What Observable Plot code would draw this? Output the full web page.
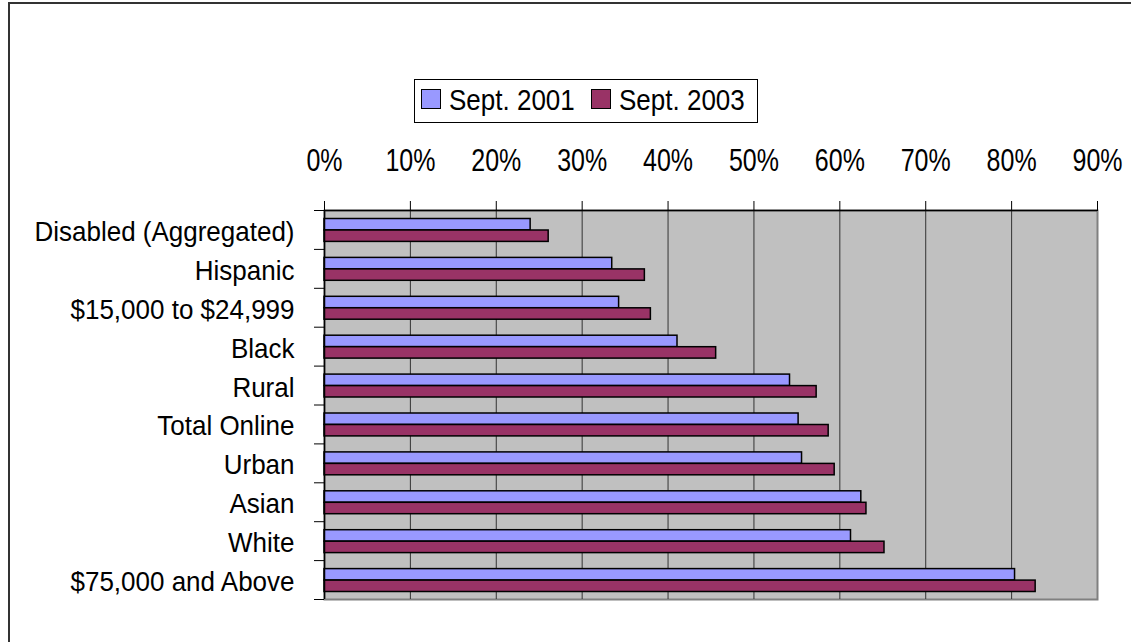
<!DOCTYPE html>
<html>
<head>
<meta charset="utf-8">
<script src="https://cdn.jsdelivr.net/npm/d3@7"></script>
<script src="https://cdn.jsdelivr.net/npm/@observablehq/plot@0.6"></script>
<style>
  html, body { margin: 0; padding: 0; background: #fff; overflow: hidden; }
  #wrap { position: relative; width: 1131px; height: 642px; overflow: hidden; font-family: "Liberation Sans", Arial, sans-serif; }
  #border { position: absolute; left: 8px; top: 2px; width: 1200px; height: 700px; border: 2px solid #333; box-sizing: border-box; }
  #chart { position: absolute; left: 0; top: 0; }
  #legend { position: absolute; left: 414px; top: 79px; width: 344px; height: 44px; border: 1px solid #000; box-sizing: border-box; background: #fff; }
  .sw { position: absolute; width: 18px; height: 18px; border: 1.5px solid #000; top: 9px; }
  .lt { position: absolute; top: 5px; font-size: 26px; color: #000; line-height: 30px; white-space: nowrap; transform: scaleY(1.12); transform-origin: 0 50%; }
</style>
</head>
<body>
<div id="wrap">
  <div id="border"></div>
  <div id="chart"></div>
  <div id="legend"></div>
</div>
<script>
const categories = ["Disabled (Aggregated)", "Hispanic", "$15,000 to $24,999", "Black", "Rural", "Total Online", "Urban", "Asian", "White", "$75,000 and Above"];
const sept2001 = [24.0, 33.5, 34.3, 41.1, 54.2, 55.2, 55.6, 62.5, 61.3, 80.4];
const sept2003 = [26.1, 37.3, 38.0, 45.6, 57.3, 58.7, 59.4, 63.1, 65.2, 82.8];
const xTicks = [0, 10, 20, 30, 40, 50, 60, 70, 80, 90];
const seriesNames = ["Sept. 2001", "Sept. 2003"];
const seriesColors = ["#9999FF", "#993366"];

const W = 1131, H = 642, mT = 210, mB = 43, mL = 324, mR = 34;
const bw = (H - mT - mB) / categories.length;

const d2001 = categories.map((c, i) => ({category: c, value: sept2001[i]}));
const d2003 = categories.map((c, i) => ({category: c, value: sept2003[i]}));
const fmt = d => d + "%";

const chart = Plot.plot({
  width: W, height: H,
  marginTop: mT, marginBottom: mB, marginLeft: mL, marginRight: mR,
  style: {fontFamily: "'Liberation Sans', Arial, sans-serif", background: "transparent", color: "#000", overflow: "visible"},
  x: {domain: [0, 90], axis: null, label: null},
  y: {domain: categories, padding: 0, round: false, axis: null, label: null},
  marks: [
    Plot.frame({fill: "#C0C0C0", stroke: "#808080", strokeWidth: 2}),
    Plot.ruleX(xTicks.slice(1, -1), {stroke: "#333", strokeWidth: 1}),
    Plot.barX(d2001, {x: "value", y: "category", fill: seriesColors[0], stroke: "#000", strokeWidth: 1.5, insetTop: 8.5, insetBottom: 19}),
    Plot.barX(d2003, {x: "value", y: "category", fill: seriesColors[1], stroke: "#000", strokeWidth: 1.5, insetTop: 20, insetBottom: 7.5}),
    Plot.ruleX([0], {stroke: "#000", strokeWidth: 1.5}),
    Plot.ruleY([categories[0]], {x1: 0, x2: 90, dy: -bw / 2, stroke: "#000", strokeWidth: 1.5}),
    Plot.axisX({anchor: "top", label: null, ticks: xTicks, tickFormat: fmt, tickSize: 10, tickPadding: 30, fontSize: 25, stroke: "#000"}),
    Plot.axisY({anchor: "left", label: null, tickSize: 10, tickFormat: () => "", dy: -bw / 2, stroke: "#000"}),
    Plot.axisY({anchor: "left", label: null, ticks: [categories[categories.length - 1]], tickSize: 10, tickFormat: () => "", dy: bw / 2, stroke: "#000"}),
    Plot.axisY({anchor: "left", label: null, tickSize: 0, tickPadding: 30, fontSize: 26, dy: 2})
  ]
});
document.getElementById("chart").appendChild(chart);

// taller, narrower look of the original's tick labels
d3.select(chart).selectAll('g[aria-label="x-axis tick label"] text').each(function() {
  const t = this.getAttribute("transform") || "";
  this.setAttribute("transform", t + " scale(1,1.22)");
});
d3.select(chart).selectAll('g[aria-label="y-axis tick label"] text').each(function() {
  const t = this.getAttribute("transform") || "";
  this.setAttribute("transform", t + " scale(1,1.08)");
});

const legend = document.getElementById("legend");
const swX = [6, 176], txX = [34, 204];
seriesNames.forEach((name, i) => {
  const sw = document.createElement("div");
  sw.className = "sw";
  sw.style.left = swX[i] + "px";
  sw.style.background = seriesColors[i];
  legend.appendChild(sw);
  const t = document.createElement("div");
  t.className = "lt";
  t.style.left = txX[i] + "px";
  t.textContent = name;
  legend.appendChild(t);
});
</script>
</body>
</html>
